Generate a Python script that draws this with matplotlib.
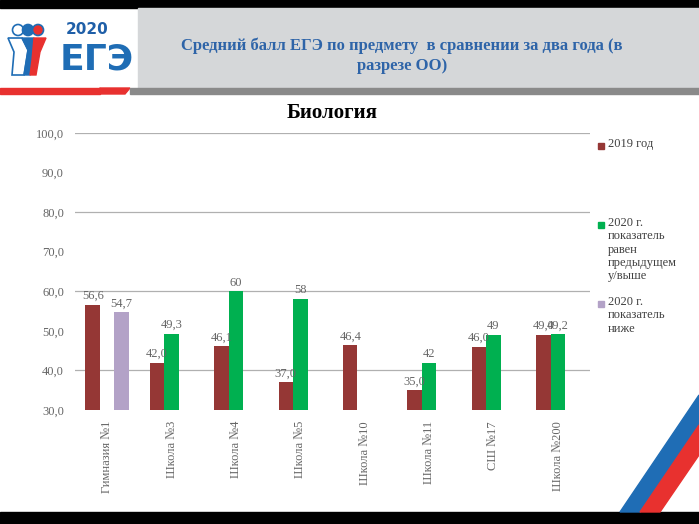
import numpy as np
import matplotlib.pyplot as plt
from matplotlib.patches import Rectangle, Polygon, Circle

# data
schools = ["Гимназия №1", "Школа №3", "Школа №4", "Школа №5",
           "Школа №10", "Школа №11", "СШ №17", "Школа №200"]
score_2019 = [56.6, 42.0, 46.1, 37.0, 46.4, 35.0, 46.0, 49.0]
score_2020_up = [np.nan, 49.3, 60, 58, np.nan, 42, 49, 49.2]
score_2020_down = [54.7, np.nan, np.nan, np.nan, np.nan, np.nan, np.nan, np.nan]
legend_labels = ["2019 год",
                 "2020 г.\nпоказатель\nравен\nпредыдущем\nу/выше",
                 "2020 г.\nпоказатель\nниже"]
yticks = [30, 40, 50, 60, 70, 80, 90, 100]

c_red = "#953735"
c_green = "#00b050"
c_purple = "#b3a2c7"
txt_gray = "#666666"
serif = "Liberation Serif"

fig = plt.figure(figsize=(6.99, 5.24), dpi=100)
fig.patch.set_facecolor("white")

# ---- slide decoration ----
W, H = 699, 524
def fx(x): return x / W
def fy(y): return 1 - y / H

fig.add_artist(Rectangle((0, fy(8)), 1, 8 / H, transform=fig.transFigure, color="black"))
fig.add_artist(Rectangle((fx(138), fy(88)), 1 - fx(138), 80 / H, transform=fig.transFigure,
                         color="#d5d7d9"))
fig.add_artist(Rectangle((0, fy(94)), fx(100), 6 / H, transform=fig.transFigure, color="#e8312f"))
fig.add_artist(Polygon([(fx(100), fy(88)), (fx(130), fy(88)), (fx(125), fy(94)), (fx(96), fy(94))],
                       transform=fig.transFigure, color="#e8312f"))
fig.add_artist(Rectangle((fx(130), fy(94)), 1 - fx(130), 6 / H, transform=fig.transFigure,
                         color="#8a8a8a"))
fig.add_artist(Rectangle((0, 0), 1, 12 / H, transform=fig.transFigure, color="black"))
# flag stripes
fig.add_artist(Polygon([(fx(620), fy(512)), (fx(640), fy(512)), (fx(699), fy(425)), (fx(699), fy(395))],
                       transform=fig.transFigure, color="#1f6db5"))
fig.add_artist(Polygon([(fx(640), fy(512)), (fx(660), fy(512)), (fx(699), fy(455)), (fx(699), fy(425))],
                       transform=fig.transFigure, color="#e8312f"))

# logo: three little figures + text
logo = fig.add_axes([0, fy(80), fx(60), 60 / H])
logo.set_xlim(0, 60)
logo.set_ylim(80, 20)
logo.axis("off")
for cx, col in [(18, "white"), (28, "#1f6db5"), (38, "#e8312f")]:
    logo.add_patch(Circle((cx, 30), 5.5, facecolor=col, edgecolor="#1f6db5", lw=1.2))
logo.add_patch(Polygon([(8, 38), (22, 38), (28, 50), (24, 75), (12, 75), (14, 52)],
                       facecolor="white", edgecolor="#1f6db5", lw=1.2))
logo.add_patch(Polygon([(22, 38), (34, 38), (32, 60), (30, 75), (24, 75), (28, 50)],
                       facecolor="#1f6db5", edgecolor="#1f6db5", lw=1))
logo.add_patch(Polygon([(34, 38), (46, 38), (40, 52), (36, 75), (30, 75), (32, 60)],
                       facecolor="#e8312f", edgecolor="#e8312f", lw=1))
fig.text(fx(66), fy(30), "2020", fontsize=11, fontweight="bold", color="#1f5fa8",
         family="DejaVu Sans", va="center", ha="left")
fig.text(fx(60), fy(59), "ЕГЭ", fontsize=26, fontweight="bold", color="#1f6db5",
         family="DejaVu Sans", va="center", ha="left")

fig.text(fx(402), fy(46), "Средний балл ЕГЭ по предмету  в сравнении за два года (в",
         fontsize=12, fontweight="bold", color="#2e64a8", family=serif, ha="center", va="center")
fig.text(fx(402), fy(66), "разрезе ОО)",
         fontsize=12, fontweight="bold", color="#2e64a8", family=serif, ha="center", va="center")

# ---- chart ----
ax = fig.add_axes([fx(75), fy(410), fx(590) - fx(75), (410 - 133) / H])
x = np.arange(len(schools))
w = 0.225

b1 = ax.bar(x - w, score_2019, w, color=c_red, zorder=3)
b2 = ax.bar(x, score_2020_up, w, color=c_green, zorder=3)
b3 = ax.bar(x + w, score_2020_down, w, color=c_purple, zorder=3)

def fmt(v, one_dec):
    if np.isnan(v):
        return ""
    s = "%.1f" % v if one_dec else "%g" % v
    return s.replace(".", ",")

ax.bar_label(b1, labels=[fmt(v, True) for v in score_2019], padding=2,
             fontsize=9, color=txt_gray, family=serif)
ax.bar_label(b2, labels=[fmt(v, False) for v in score_2020_up], padding=2,
             fontsize=9, color=txt_gray, family=serif)
ax.bar_label(b3, labels=[fmt(v, True) for v in score_2020_down], padding=2,
             fontsize=9, color=txt_gray, family=serif)

ax.set_ylim(30, 100)
ax.set_xlim(-0.5, len(schools) - 0.5)
ax.set_yticks(yticks)
ax.set_yticklabels([("%.1f" % t).replace(".", ",") for t in yticks],
                   fontsize=9, color=txt_gray, family=serif)
for g in [40, 60, 80, 100]:
    ax.axhline(g, color="#b0b0b0", lw=0.9, zorder=1)
ax.set_xticks(x)
ax.set_xticklabels(schools, rotation=90, fontsize=9, color=txt_gray, family=serif, va="top")
ax.tick_params(length=0, pad=8)
for s in ax.spines.values():
    s.set_visible(False)

ax.set_title("Биология", fontsize=15, fontweight="bold", family=serif, pad=11)

# legend
leg_y = [145, 224, 303]
for lab, col, yy in zip(legend_labels, [c_red, c_green, c_purple], leg_y):
    fig.add_artist(Rectangle((fx(598), fy(yy) - 3.5 / H), 6 / W, 6 / H,
                             transform=fig.transFigure, color=col))
    fig.text(fx(608), fy(yy) + 7 / H, lab, fontsize=9, color="#404040", family=serif,
             ha="left", va="top", linespacing=1.15)

fig.savefig("out.png", dpi=100)
